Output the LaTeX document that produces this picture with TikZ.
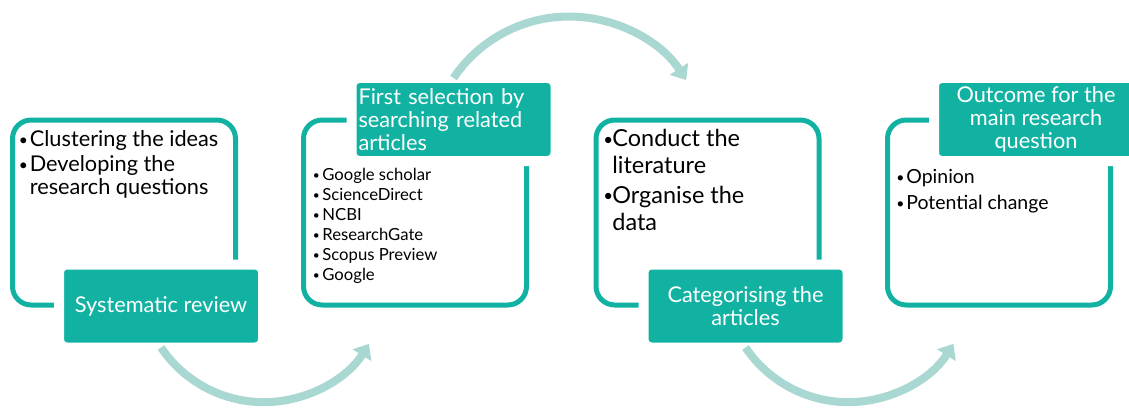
\documentclass[tikz,border=0pt]{standalone}
\usepackage{fontspec}
\setmainfont{Lato}
\usetikzlibrary{arrows.meta}

\definecolor{stepteal}{RGB}{18,178,163}
\definecolor{steplight}{RGB}{169,216,210}

% a smaller bullet than the font's own
\newcommand{\stepbullet}{\raisebox{0.12ex}{\scalebox{0.72}{\textbullet}}}

\tikzset{
  stepframe/.style={draw=stepteal, line width=3.75pt, rounded corners=14pt,
    minimum width=167.25pt, minimum height=138.75pt, inner sep=0pt, outer sep=0pt},
  stephead/.style={fill=stepteal, draw=white, line width=7.5pt, rounded corners=6pt,
    minimum width=153pt, minimum height=62.25pt, outer sep=0pt, text=white,
    font=\fontsize{16.3}{17.2}\selectfont, align=center},
  steplist/.style={anchor=north west, inner sep=0pt, align=left},
  flow/.style={draw=steplight, line width=6pt, -{Triangle[length=10pt,width=16pt]}},
}

\begin{document}
\begin{tikzpicture}[x=0.75pt, y=0.75pt]
  \clip (0,0) rectangle (1129,408);
  % outlined frames
  \node[stepframe] (ideas) at (124,195.5) {};
  \node[stepframe] (sources) at (415,195.5) {};
  \node[stepframe] (literature) at (707.5,195.5) {};
  \node[stepframe] (answer) at (999,195.5) {};
  % filled headers, sitting on the frame edges
  \node[stephead] (review) at ([shift={(37,-1)}]ideas.south) {Systematic review};
  \node[stephead, align=left, text width=142.5pt, inner xsep=5.25pt] (selection) at ([shift={(38.5,0.5)}]sources.north)
    {First selection by\\searching related\\articles};
  \node[stephead] (sorting) at ([shift={(38,-1)}]literature.south) {Categorising the\\articles};
  \node[stephead] (outcome) at ([shift={(37,0.5)}]answer.north) {Outcome for the\\main research\\question};
  % bullet lists
  \node[steplist, font=\fontsize{16.3}{17.25}\selectfont] (ideaslist) at ([shift={(6,-10.5)}]ideas.north west)
    {\begin{tabular}{@{}l@{\hspace{1.5pt}}l@{}}
      \stepbullet & Clustering the ideas\\[1.5pt]
      \stepbullet & Developing the\\
                  & research questions
    \end{tabular}};
  \node[steplist, font=\fontsize{12.5}{15}\selectfont] (sourcelist) at ([shift={(9,-46.5)}]sources.north west)
    {\begin{tabular}{@{}l@{\hspace{2pt}}l@{}}
      \stepbullet & Google scholar\\
      \stepbullet & ScienceDirect\\
      \stepbullet & NCBI\\
      \stepbullet & ResearchGate\\
      \stepbullet & Scopus Preview\\
      \stepbullet & Google
    \end{tabular}};
  \node[steplist, font=\fontsize{17.6}{20.25}\selectfont] (litlist) at ([shift={(7,-7.5)}]literature.north west)
    {\begin{tabular}{@{}l@{\hspace{-0.5pt}}l@{}}
      \stepbullet & Conduct the\\
                  & literature\\[2pt]
      \stepbullet & Organise the\\
                  & data
    \end{tabular}};
  \node[steplist, font=\fontsize{14.6}{19.5}\selectfont] (answerlist) at ([shift={(8.5,-45.5)}]answer.north west)
    {\begin{tabular}{@{}l@{\hspace{1.5pt}}l@{}}
      \stepbullet & Opinion\\
      \stepbullet & Potential change
    \end{tabular}};
  % curved arrows between the steps
  \draw[flow] (review.south) arc[start angle=214, end angle=328, radius=124];
  \draw[flow] (selection.north) arc[start angle=146, end angle=33, radius=139.5];
  \draw[flow] (sorting.south) arc[start angle=214, end angle=328, radius=124];
\end{tikzpicture}
\end{document}
